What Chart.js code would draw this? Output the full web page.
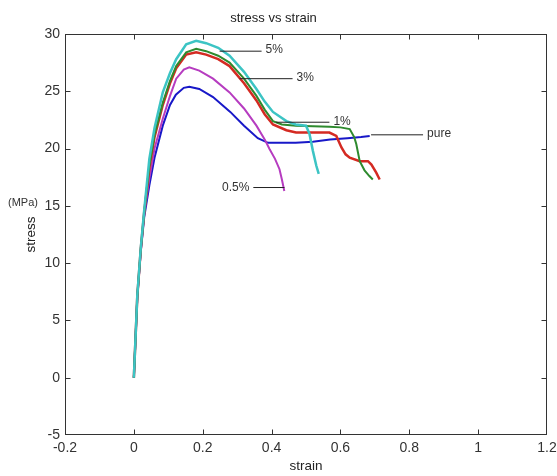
<!DOCTYPE html>
<html><head><meta charset="utf-8">
<script src="https://cdn.jsdelivr.net/npm/chart.js@4/dist/chart.umd.min.js"></script>
<style>html,body{margin:0;padding:0;background:#fff}canvas{display:block}</style>
</head><body>
<canvas id="c" width="557" height="476"></canvas>
<script>
// ---- data (strain, stress in MPa) ----
const pureStrain = [0,0.01,0.02,0.03,0.045,0.06,0.084,0.105,0.122,0.145,0.161,0.19,0.23,0.28,0.32,0.36,0.39,0.42,0.47,0.52,0.57,0.62,0.66,0.685];
const pureStress = [0,7,11,14,16.8,19.2,22.0,23.8,24.7,25.3,25.4,25.2,24.5,23.2,22.0,20.9,20.5,20.5,20.5,20.6,20.8,20.9,21.0,21.1];

const p05Strain = [0,0.01,0.02,0.03,0.045,0.06,0.084,0.105,0.123,0.145,0.161,0.19,0.23,0.278,0.32,0.356,0.38,0.394,0.41,0.423,0.43,0.437];
const p05Stress = [0,7,11,14.3,17.4,20,22.6,24.6,26.1,26.9,27.1,26.8,26.1,24.9,23.5,22.0,20.8,19.96,19.1,18.2,17.3,16.3];

const p1Strain = [0,0.01,0.02,0.03,0.045,0.06,0.084,0.105,0.123,0.152,0.181,0.21,0.245,0.278,0.32,0.356,0.38,0.404,0.43,0.471,0.52,0.568,0.6,0.627,0.64,0.646,0.656,0.67,0.684,0.694];
const p1Stress = [0,7.1,11.2,14.4,18.5,21.2,24.0,25.9,27.2,28.4,28.7,28.5,28.1,27.5,26.1,24.6,23.4,22.4,22.1,22.0,21.95,21.9,21.85,21.7,21.0,20.4,18.9,18.1,17.6,17.3];

const p3Strain = [0,0.01,0.02,0.03,0.045,0.06,0.084,0.105,0.123,0.152,0.181,0.21,0.245,0.278,0.32,0.356,0.38,0.404,0.443,0.471,0.52,0.568,0.588,0.603,0.615,0.627,0.656,0.68,0.69,0.704,0.714];
const p3Stress = [0,7.1,11.2,14.4,18.3,21.0,23.8,25.7,27.0,28.2,28.4,28.2,27.8,27.2,25.7,24.2,23.0,22.1,21.6,21.4,21.4,21.4,21.1,20.1,19.5,19.2,18.9,18.9,18.6,17.9,17.3];

const p5Strain = [0,0.01,0.02,0.03,0.045,0.06,0.084,0.105,0.123,0.152,0.181,0.21,0.245,0.278,0.32,0.356,0.38,0.404,0.443,0.47,0.50,0.51,0.52,0.53,0.537];
const p5Stress = [0,7.2,11.3,14.6,19.1,21.8,24.9,26.6,27.8,29.1,29.4,29.2,28.8,28.1,26.7,25.2,24.1,23.2,22.4,22.1,22.0,21.3,19.8,18.5,17.8];

// annotation leaders (data coords)
const noteText   = ['5%','3%','1%','pure','0.5%'];
const noteFrom   = [0.249,0.307,0.413,0.689,0.347];
const noteTo     = [0.371,0.461,0.568,0.840,0.4375];
const noteStress = [28.5,26.1,22.3,21.2,16.6];
const noteSide   = ['right','right','right','right','left'];

const xTicks = [-0.2,0,0.2,0.4,0.6,0.8,1,1.2];
const yTicks = [-5,0,5,10,15,20,25,30];

const zip = (a,b) => a.map((v,i)=>({x:v,y:b[i]}));

const leaderSets = noteText.map((t,i)=>({
  label:'leader '+t,
  data:[{x:noteFrom[i],y:noteStress[i]},{x:noteTo[i],y:noteStress[i]}],
  borderColor:'#222', borderWidth:1, pointRadius:0, showLine:true, order:0
}));

const series = [
  {label:'5%', data:zip(p5Strain,p5Stress), borderColor:'#3cc4c4', borderWidth:2.5, order:1},
  {label:'1%', data:zip(p1Strain,p1Stress), borderColor:'#2e8a2e', borderWidth:2, order:2},
  {label:'3%', data:zip(p3Strain,p3Stress), borderColor:'#d42a22', borderWidth:2.5, order:3},
  {label:'0.5%', data:zip(p05Strain,p05Stress), borderColor:'#b63cc0', borderWidth:2, order:4},
  {label:'pure', data:zip(pureStrain,pureStress), borderColor:'#1818c8', borderWidth:2, order:5}
].map(s=>Object.assign({showLine:true,pointRadius:0,tension:0,fill:false},s));

const framePlugin = {
  id:'frame',
  afterDraw(chart){
    const {ctx, chartArea:a, scales:{x,y}} = chart;
    ctx.save();
    ctx.strokeStyle='#333'; ctx.lineWidth=1;
    const L=Math.round(a.left)+0.5, R=Math.round(a.right)-0.5, T=Math.round(a.top)+0.5, B=Math.round(a.bottom)-0.5;
    ctx.strokeRect(L,T,R-L,B-T);
    ctx.beginPath();
    xTicks.forEach(v=>{const p=Math.round(x.getPixelForValue(v))+0.5;
      if(p>L+1&&p<R-1){ctx.moveTo(p,B);ctx.lineTo(p,B-5);ctx.moveTo(p,T);ctx.lineTo(p,T+5);}});
    yTicks.forEach(v=>{const p=Math.round(y.getPixelForValue(v))+0.5;
      if(p>T+1&&p<B-1){ctx.moveTo(L,p);ctx.lineTo(L+5,p);ctx.moveTo(R,p);ctx.lineTo(R-5,p);}});
    ctx.stroke();
    // annotation texts
    ctx.fillStyle='#333'; ctx.font='12px "Liberation Sans", Arial, sans-serif'; ctx.textBaseline='middle';
    noteText.forEach((t,i)=>{
      const py=y.getPixelForValue(noteStress[i]);
      if(noteSide[i]==='right'){ctx.textAlign='left';ctx.fillText(t,x.getPixelForValue(noteTo[i])+4,py-1);}
      else {ctx.textAlign='right';ctx.fillText(t,x.getPixelForValue(noteFrom[i])-4,py);}
    });
    ctx.font='11px "Liberation Sans", Arial, sans-serif'; ctx.textAlign='left';
    ctx.fillText('(MPa)',8,y.getPixelForValue(15)-3);
    ctx.restore();
  }
};

const tickFont = {family:'"Liberation Sans", Arial, sans-serif', size:14};
new Chart(document.getElementById('c'),{
  type:'scatter',
  data:{datasets:[...leaderSets,...series]},
  options:{
    responsive:false, animation:false,
    layout:{padding:{left:0,right:10,top:0,bottom:0}},
    plugins:{
      legend:{display:false}, tooltip:{enabled:false},
      title:{display:true,text:'stress vs strain',color:'#222',
        font:{family:'"Liberation Sans", Arial, sans-serif',size:13,weight:'normal',lineHeight:1.2},
        padding:{top:11,bottom:7.4}}
    },
    scales:{
      x:{type:'linear',min:-0.2,max:1.2,
        afterBuildTicks:s=>{s.ticks=xTicks.map(v=>({value:v}));},
        afterFit:s=>{s.height=41;s.paddingLeft=0;s.paddingRight=0;},
        grid:{display:false,drawTicks:false}, border:{display:false},
        ticks:{color:'#333',font:tickFont,padding:5,maxRotation:0,autoSkip:false,
          callback:v=>String(Math.round(v*10)/10)},
        title:{display:true,text:'strain',color:'#222',
          font:{family:'"Liberation Sans", Arial, sans-serif',size:13.5,lineHeight:1.2},padding:{top:0,bottom:2}}
      },
      y:{type:'linear',min:-5,max:30,
        afterBuildTicks:s=>{s.ticks=yTicks.map(v=>({value:v}));},
        afterFit:s=>{s.width=65;s.paddingTop=0;s.paddingBottom=0;},
        grid:{display:false,drawTicks:false}, border:{display:false},
        ticks:{color:'#333',font:tickFont,padding:5,autoSkip:false},
        title:{display:true,text:'stress',color:'#222',
          font:{family:'"Liberation Sans", Arial, sans-serif',size:13.5,lineHeight:1.2},padding:{top:23,bottom:0}}
      }
    }
  },
  plugins:[framePlugin]
});
</script>
</body></html>
